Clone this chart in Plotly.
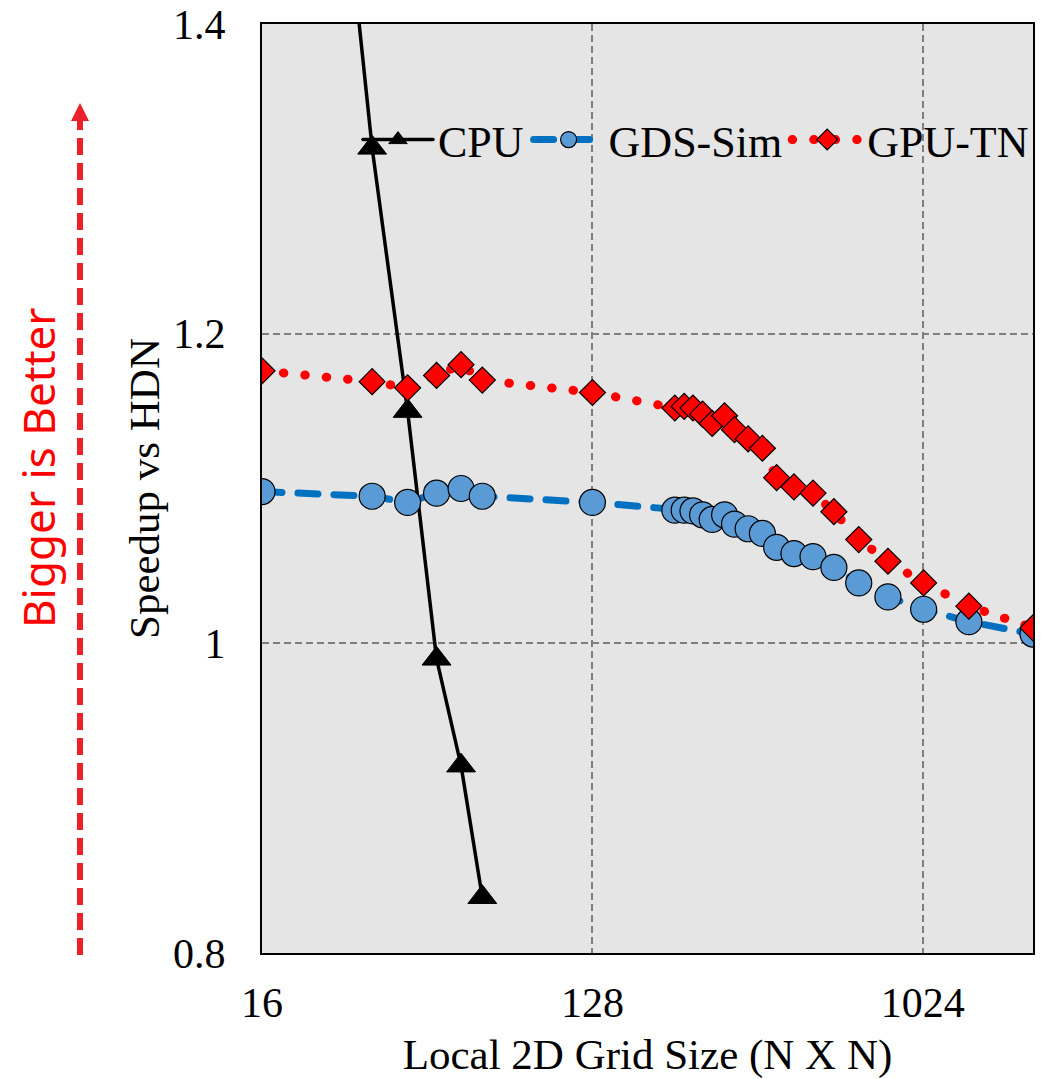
import plotly.graph_objects as go

# ---- data ----
cpu_n = [16, 32, 40, 48, 56, 64]
cpu_speedup = [2.00, 1.32, 1.150, 0.990, 0.921, 0.836]

grid_n = [16, 32, 40, 48, 56, 64, 128, 215, 228, 241, 256, 272, 294, 313, 341, 373,
          408, 455, 513, 585, 684, 822, 1029, 1368, 2048]
gds_speedup = [1.098, 1.095, 1.091, 1.097, 1.100, 1.095, 1.091, 1.086, 1.086, 1.0855,
               1.083, 1.080, 1.083, 1.077, 1.074, 1.071, 1.062, 1.058, 1.056, 1.049,
               1.039, 1.030, 1.022, 1.014, 1.006]
gputn_speedup = [1.176, 1.169, 1.165, 1.173, 1.180, 1.170, 1.162, 1.152, 1.153, 1.152,
                 1.148, 1.142, 1.147, 1.138, 1.132, 1.126, 1.107, 1.101, 1.097, 1.085,
                 1.067, 1.053, 1.039, 1.024, 1.010]

x_ticks = [16, 128, 1024]
x_tick_text = ["16", "128", "1024"]
y_ticks = [0.8, 1.0, 1.2, 1.4]
y_tick_text = ["0.8", "1", "1.2", "1.4"]

SERIF = "Liberation Serif, Times New Roman, serif"

fig = go.Figure()
fig.add_trace(go.Scatter(
    x=cpu_n, y=cpu_speedup, name="CPU", mode="lines+markers",
    line=dict(color="black", width=3.5),
    marker=dict(symbol="triangle-up", size=25, color="black",
                line=dict(color="black", width=1)),
))
fig.add_trace(go.Scatter(
    x=grid_n, y=gds_speedup, name="GDS-Sim", mode="lines+markers",
    line=dict(color="#0070c0", width=7, dash="20px,16px"),
    marker=dict(symbol="circle", size=26, color="#5b9bd5",
                line=dict(color="black", width=1.2)),
))
fig.add_trace(go.Scatter(
    x=grid_n, y=gputn_speedup, name="GPU-TN", mode="lines+markers",
    line=dict(color="#ff0000", width=9, dash="0.5px,21px"),
    marker=dict(symbol="diamond", size=20, color="#ff0000",
                line=dict(color="black", width=1.2)),
))

L, R, T, B = 262, 18, 24, 126
W, H = 1051, 1079
pw = W - L - R
ph = H - T - B

def px_x(p):
    return (p - L) / pw

def px_y(p):
    return (H - B - p) / ph

arrow_color = "#ee2029"
ax = px_x(80)
fig.add_shape(type="line", xref="paper", yref="paper",
              x0=ax, x1=ax, y0=px_y(955), y1=px_y(119),
              line=dict(color=arrow_color, width=6, dash="17px,8px"))
hw = 9 / pw
fig.add_shape(type="path", xref="paper", yref="paper",
              path=f"M {ax-hw},{px_y(121)} L {ax+hw},{px_y(121)} L {ax},{px_y(103)} Z",
              fillcolor=arrow_color, line=dict(color=arrow_color, width=0))
fig.add_annotation(text="Bigger is Better", xref="paper", yref="paper",
                   x=px_x(38), y=px_y(467), showarrow=False, textangle=-90,
                   font=dict(family="Noto Sans, Open Sans, sans-serif", size=44, color="#ff0000"),
                   xanchor="center", yanchor="middle")

fig.update_layout(
    width=W, height=H,
    margin=dict(l=L, r=R, t=T, b=B, autoexpand=False),
    paper_bgcolor="white", plot_bgcolor="#e5e5e5",
    font=dict(family=SERIF, color="black", size=38),
    showlegend=True,
    legend=dict(orientation="h", x=px_x(358), y=px_y(140), xanchor="left", yanchor="middle",
                bgcolor="rgba(0,0,0,0)", font=dict(family=SERIF, size=44, color="black"),
                itemwidth=70, tracegroupgap=0, traceorder="normal"),
    xaxis=dict(
        type="log", range=[1.2041199826559248, 3.3113299523037926],
        tickmode="array", tickvals=x_ticks, ticktext=x_tick_text,
        tickfont=dict(family=SERIF, size=42, color="black"),
        ticks="", ticklabelstandoff=12,
        showgrid=True, gridcolor="#7f7f7f", gridwidth=1.5, griddash="7px,4px",
        showline=True, linecolor="black", linewidth=2, mirror=True, zeroline=False,
        title=dict(text="Local 2D Grid Size (N X N)", font=dict(family=SERIF, size=43, color="black"),
                   standoff=32),
        automargin=False,
    ),
    yaxis=dict(
        range=[0.8, 1.4], tickmode="array", tickvals=y_ticks, ticktext=y_tick_text,
        tickfont=dict(family=SERIF, size=42, color="black"),
        ticks="", ticklabelstandoff=26,
        showgrid=True, gridcolor="#7f7f7f", gridwidth=1.5, griddash="7px,4px",
        showline=True, linecolor="black", linewidth=2, mirror=True, zeroline=False,
        title=dict(text="Speedup vs HDN", font=dict(family=SERIF, size=43, color="black"),
                   standoff=0),
        automargin=False,
    ),
)

post = ("var s=document.createElement('style');"
        "s.innerHTML='body{margin:0 !important;} .js-line{stroke-linecap:round !important;}';"
        "document.head.appendChild(s);")
fig.write_html("out.html", post_script=post, config={"displayModeBar": False})
